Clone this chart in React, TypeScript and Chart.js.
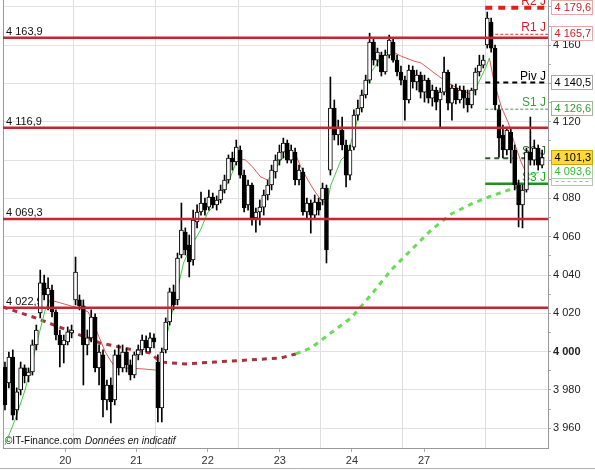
import React, { useEffect, useRef } from 'react';
import { Chart, registerables } from 'chart.js';
Chart.register(...registerables);

const FONT = '"Liberation Sans", Arial, sans-serif';

// ---- Candles (OHLC) ----
const opens = [
  3992.0, 3983.7, 3997.2, 3969.6, 3980.0, 3991.5, 3987.3, 3989.4, 4003.5, 4020.2,
  4035.9, 4029.6, 4032.2, 4020.7, 4008.7, 4003.5, 4005.1, 4009.8, 4027.0, 4027.0,
  4023.9, 4003.5, 4007.2, 4018.1, 3991.5, 3998.3, 3974.8, 3982.6, 3974.8, 3998.3,
  3991.5, 3999.8, 3993.1, 3987.8, 3998.3, 4000.9, 4006.1, 4001.9, 4007.2, 3994.6,
  3970.6, 4000.9, 4015.5, 4031.2, 4027.0, 4050.5, 4062.4, 4055.7, 4047.9, 4067.7,
  4072.9, 4077.6, 4075.5, 4080.7, 4076.6, 4079.2, 4084.4, 4089.6, 4101.1, 4099.0,
  4105.3, 4092.2, 4076.6, 4087.0, 4069.8, 4072.9, 4075.5, 4081.8, 4087.0, 4093.8,
  4100.0, 4104.2, 4108.9, 4100.0, 4104.2, 4089.6, 4093.8, 4072.9, 4077.6, 4071.3,
  4078.1, 4079.2, 4085.4, 4094.8, 4127.2, 4113.1, 4115.7, 4107.9, 4092.2, 4106.8,
  4123.5, 4127.2, 4134.0, 4141.8, 4161.6, 4152.2, 4154.8, 4146.0, 4154.8, 4161.6,
  4152.2, 4146.0, 4141.8, 4131.4, 4147.0, 4140.8, 4144.4, 4135.5, 4141.8, 4132.4,
  4136.6, 4131.4, 4135.5, 4146.0, 4129.8, 4137.6, 4131.4, 4136.6, 4132.4, 4128.8,
  4136.6, 4146.0, 4149.6, 4160.1, 4172.1, 4158.5, 4126.2, 4113.1, 4105.3, 4114.7,
  4105.3, 4087.0, 4076.6, 4084.4, 4104.2, 4100.0, 4106.3, 4097.4,
];
const highs = [
  3994.6, 3999.8, 4000.9, 3981.1, 3994.6, 3993.1, 3991.5, 4006.1, 4013.9, 4042.6,
  4040.0, 4038.5, 4034.8, 4021.8, 4011.3, 4008.7, 4012.9, 4013.9, 4049.4, 4029.6,
  4027.0, 4011.3, 4021.8, 4019.7, 4003.5, 4000.9, 3985.2, 3986.3, 4000.9, 4003.5,
  4003.5, 4001.9, 3995.7, 3999.8, 4003.5, 4008.7, 4008.2, 4009.8, 4009.3, 3998.3,
  4001.9, 4017.6, 4033.2, 4034.8, 4051.5, 4077.6, 4064.6, 4060.9, 4073.9, 4076.6,
  4083.3, 4080.2, 4084.4, 4082.8, 4081.3, 4087.0, 4092.2, 4102.7, 4104.2, 4110.5,
  4107.4, 4094.8, 4089.6, 4088.0, 4075.0, 4079.2, 4084.4, 4089.6, 4097.4, 4102.7,
  4107.9, 4111.5, 4110.5, 4107.9, 4106.3, 4097.4, 4095.9, 4080.2, 4079.2, 4081.8,
  4080.2, 4088.0, 4087.0, 4143.4, 4131.4, 4120.9, 4122.5, 4110.5, 4107.9, 4126.2,
  4131.4, 4136.6, 4144.4, 4166.3, 4163.7, 4158.5, 4156.4, 4157.5, 4165.3, 4163.7,
  4154.8, 4149.1, 4143.9, 4149.6, 4149.1, 4147.0, 4146.0, 4144.4, 4142.8, 4139.2,
  4138.1, 4137.6, 4153.8, 4147.0, 4139.2, 4139.7, 4138.7, 4138.7, 4136.6, 4137.6,
  4148.1, 4154.8, 4154.8, 4177.3, 4174.2, 4160.1, 4128.8, 4118.3, 4117.3, 4116.8,
  4107.9, 4089.6, 4087.0, 4106.3, 4122.5, 4110.5, 4107.9, 4105.3,
];
const lows = [
  3969.6, 3981.1, 3964.4, 3964.4, 3977.4, 3983.7, 3984.2, 3987.8, 4000.9, 4017.6,
  4027.0, 4021.8, 4018.1, 4006.1, 3992.0, 3994.1, 4003.5, 4007.2, 4024.4, 4021.8,
  3982.6, 3998.3, 4005.1, 3989.4, 3982.6, 3965.9, 3969.6, 3962.8, 3972.2, 3987.8,
  3989.4, 3989.4, 3985.2, 3986.3, 3995.7, 3998.3, 3999.8, 3999.8, 4001.9, 3963.3,
  3963.3, 3999.3, 4013.9, 4021.8, 4024.4, 4048.9, 4050.5, 4039.0, 4045.2, 4064.6,
  4071.3, 4071.3, 4073.9, 4075.0, 4073.9, 4077.6, 4082.8, 4088.0, 4094.8, 4097.4,
  4090.6, 4072.9, 4073.9, 4066.1, 4062.4, 4066.1, 4071.3, 4079.2, 4084.4, 4090.6,
  4097.4, 4101.1, 4098.5, 4098.5, 4087.0, 4087.0, 4071.3, 4069.8, 4061.9, 4069.8,
  4071.3, 4076.6, 4046.3, 4092.2, 4110.5, 4107.9, 4105.3, 4086.0, 4089.6, 4105.3,
  4120.9, 4125.1, 4132.4, 4140.2, 4149.6, 4149.1, 4143.9, 4144.9, 4153.3, 4151.2,
  4143.9, 4139.2, 4120.9, 4129.8, 4137.6, 4136.6, 4132.4, 4130.3, 4129.8, 4128.2,
  4126.2, 4116.8, 4134.0, 4126.2, 4120.9, 4129.3, 4129.8, 4127.2, 4125.1, 4127.2,
  4134.0, 4143.9, 4148.1, 4158.5, 4156.4, 4126.2, 4101.6, 4101.1, 4102.7, 4098.5,
  4084.4, 4065.1, 4064.6, 4083.3, 4097.4, 4097.4, 4094.8, 4095.9,
];
const closes = [
  3972.2, 3997.2, 3966.9, 3979.0, 3991.5, 3987.3, 3989.4, 4003.5, 4011.3, 4035.9,
  4029.6, 4033.2, 4020.7, 4008.7, 4003.5, 4006.1, 4010.3, 4011.3, 4041.6, 4023.9,
  4003.5, 4007.2, 4018.1, 3991.5, 3999.8, 3974.8, 3982.6, 3973.7, 3998.3, 3991.5,
  3999.8, 3993.1, 3987.8, 3998.3, 4000.9, 4006.1, 4001.9, 4007.2, 4005.1, 3970.6,
  3999.8, 4015.5, 4031.2, 4024.4, 4048.9, 4063.5, 4053.1, 4046.8, 4068.7, 4072.9,
  4077.6, 4073.9, 4080.7, 4076.6, 4079.2, 4084.4, 4089.6, 4101.1, 4099.0, 4106.8,
  4092.2, 4075.0, 4087.0, 4069.8, 4072.9, 4075.5, 4081.8, 4087.0, 4094.8, 4100.0,
  4104.2, 4108.9, 4100.0, 4105.3, 4089.6, 4094.8, 4072.9, 4077.6, 4071.3, 4078.1,
  4073.9, 4085.4, 4053.1, 4127.2, 4113.1, 4116.8, 4107.9, 4092.2, 4105.3, 4123.5,
  4127.2, 4134.0, 4141.8, 4161.6, 4152.2, 4156.4, 4146.0, 4154.8, 4162.7, 4152.2,
  4146.0, 4141.8, 4131.4, 4147.0, 4140.8, 4144.4, 4135.5, 4141.8, 4132.4, 4136.6,
  4130.3, 4135.5, 4146.0, 4129.8, 4137.6, 4131.4, 4136.6, 4132.4, 4128.8, 4136.6,
  4146.0, 4149.6, 4152.2, 4174.2, 4158.5, 4128.8, 4111.5, 4105.3, 4115.7, 4105.3,
  4087.0, 4076.6, 4084.4, 4104.2, 4100.0, 4106.3, 4097.4, 4101.3,
];

// ---- Moving averages ----
const maShortX = [
  0, 2.57, 5.13, 7.68, 10.24, 11.52, 14.08, 16.64, 19.19, 21.24, 23.03, 25.59, 27.63,
  30.7, 33.26, 35.82, 38.37, 39.4, 40.42, 42.98, 45.54, 47.33, 49.88, 51.67, 55.0,
  57.56, 59.35, 61.39, 63.18, 65.23, 67.02, 68.55, 70.34, 72.9, 74.18, 75.46, 77.25,
  78.79, 80.58, 82.11, 83.13, 85.69, 87.48, 89.53, 91.32, 93.36, 95.92, 97.97, 101.04,
  104.36, 106.15, 109.48, 113.06, 116.38, 119.2, 120.73, 122.78, 123.54, 124.82,
  126.61, 128.4, 129.94, 131.73, 133.26, 134.8, 136.1,
];
const maShortY = [
  3951.3, 3964.4, 3980.0, 4000.9, 4021.8, 4027.0, 4025.5, 4024.0, 4022.6, 4020.7,
  4012.4, 3999.8, 3993.1, 3991.5, 3991.2, 3990.9, 3990.4, 3989.6, 4000.9, 4023.3,
  4046.3, 4054.6, 4063.5, 4072.4, 4080.7, 4091.2, 4101.1, 4100.0, 4096.4, 4091.2,
  4089.6, 4093.8, 4100.0, 4104.7, 4102.7, 4096.4, 4089.6, 4084.4, 4079.2, 4077.1,
  4087.0, 4100.0, 4103.7, 4118.3, 4132.9, 4145.9, 4153.3, 4157.5, 4154.3, 4151.7,
  4150.7, 4145.5, 4140.2, 4136.6, 4134.0, 4140.2, 4149.1, 4153.3, 4140.2, 4127.7,
  4119.4, 4108.9, 4098.5, 4092.0, 4092.8, 4093.6,
];
const maLongX = [
  -0.5, 7.17, 15.87, 24.31, 32.75, 37.1, 39.65, 46.05, 53.72, 62.67, 70.34, 74.18,
  78.02, 83.13, 88.25, 93.36, 98.48, 103.59, 108.71, 113.82, 118.94, 124.05, 129.17, 132.24,
];
const maLongY = [
  4023.3, 4018.1, 4011.3, 4004.5, 4000.9, 3999.3, 3994.6, 3993.6, 3994.6, 3995.7,
  3996.7, 3998.8, 4001.9, 4009.8, 4017.6, 4029.6, 4042.6, 4053.1, 4063.5, 4071.9,
  4077.1, 4081.3, 4084.9, 4087.0,
];
const maLongTurn = 71.5;

// ---- Levels ----
const levelValues = [4163.9, 4116.9, 4069.3, 4022.9];
const pivotNames = ['R2 J', 'R1 J', 'Piv J', 'S1 J', 'S2 J', 'S3 J'];
const pivotValues = [4179.6, 4165.7, 4140.5, 4126.6, 4101.0, 4087.7];
const pivotStart = 122.5;

// ---- Axes ----
const dayBoundaries = [17.5, 38.5, 59.5, 80.5, 101.5, 122.5];
const dayLabels = ['20', '21', '22', '23', '24', '27'];
const dayLabelPositions = [15.4, 33.5, 51.7, 70.1, 88.5, 106.9];
const yTickValues = [
  3960, 3970, 3980, 3990, 4000, 4010, 4020, 4030, 4040, 4050, 4060, 4070,
  4080, 4090, 4100, 4110, 4120, 4130, 4140, 4150, 4160, 4170, 4180,
];
const yLabelValues = [3960, 3980, 4000, 4020, 4040, 4060, 4080, 4120, 4160];
const yGridValues = [3960, 3980, 4000, 4020, 4040, 4060, 4080, 4100, 4120, 4140, 4160, 4180];
const yMin = 3949.7;
const yMax = 4183.6;
const xMin = -0.5;
const xMax = 138.5;

const fmt = (v: number) => {
  const s = v.toFixed(1);
  const [ip, fp] = s.split('.');
  return ip.replace(/\B(?=(\d{3})+(?!\d))/g, ' ') + ',' + fp;
};
const fmtInt = (v: number) => String(Math.round(v)).replace(/\B(?=(\d{3})+(?!\d))/g, ' ');

const pivotStyles = [
  { color: '#dd2020', width: 4, dash: [7, 6], text: '#cc2222' },
  { color: '#dd3333', width: 1, dash: [3, 2], text: '#cc2222' },
  { color: '#000000', width: 2, dash: [5, 4], text: '#000000' },
  { color: '#5a8a5a', width: 1, dash: [3, 2], text: '#3a9a3a' },
  { color: '#2d5a2d', width: 2, dash: [5, 4], text: '#2d6a2d' },
  { color: '#1f8f1f', width: 2.5, dash: [], text: '#22aa22' },
];

const zeroPad = (s: any) => {
  s.paddingTop = 0;
  s.paddingBottom = 0;
  s.paddingLeft = 0;
  s.paddingRight = 0;
};

const decorPlugin = {
  id: 'decor',
  beforeDatasetsDraw(chart: any) {
    const { ctx, chartArea: a, scales } = chart;
    const y = scales.y;
    ctx.save();
    ctx.strokeStyle = '#999';
    ctx.lineWidth = 1;
    ctx.beginPath();
    ctx.moveTo(a.left + 0.5, a.top);
    ctx.lineTo(a.left + 0.5, a.bottom);
    ctx.stroke();

    ctx.font = `11px ${FONT}`;
    ctx.fillStyle = '#111';
    ctx.textAlign = 'left';
    ctx.textBaseline = 'alphabetic';
    levelValues.forEach((v) => ctx.fillText(fmt(v), a.left + 3, y.getPixelForValue(v) - 2.5));

    ctx.font = `12px ${FONT}`;
    ctx.textAlign = 'right';
    pivotNames.forEach((n, i) => {
      ctx.fillStyle = pivotStyles[i].text;
      ctx.fillText(n, a.right - 2, y.getPixelForValue(pivotValues[i]) - 3);
    });

    ctx.textAlign = 'left';
    ctx.fillStyle = '#111';
    ctx.font = `10px ${FONT}`;
    ctx.fillText('\u00A9IT-Finance.com', a.left + 2, a.bottom - 4);
    ctx.font = `italic 10px ${FONT}`;
    ctx.fillText('Donn\u00E9es en indicatif', a.left + 82, a.bottom - 4);
    ctx.restore();
  },
  afterDraw(chart: any) {
    const { ctx, chartArea: a, scales } = chart;
    const y = scales.y;
    const bx = a.right + 3.5;
    ctx.save();
    // long-MA / S3 marker box, mostly tucked under the short-MA box
    const ps3 = Math.round(y.getPixelForValue(pivotValues[5]));
    ctx.fillStyle = '#ffffff';
    ctx.fillRect(bx, ps3 - 8.5, 41, 10);
    ctx.strokeStyle = '#b8c8b8';
    ctx.lineWidth = 1;
    ctx.strokeRect(bx, ps3 - 8.5, 41, 10);
    ctx.strokeStyle = '#88cc88';
    ctx.setLineDash([3, 3]);
    ctx.beginPath();
    ctx.moveTo(bx + 4, ps3 - 2.5);
    ctx.lineTo(bx + 38, ps3 - 2.5);
    ctx.stroke();
    ctx.setLineDash([]);

    const boxes = [
      { v: pivotValues[4], color: '#2d6a2d', border: '#99bb99', fill: '#ffffff' },
      { v: maShortY[maShortY.length - 1], color: '#33bb33', border: '#aaccaa', fill: '#ffffff' },
      { v: closes[closes.length - 1], color: '#000000', border: '#c9a400', fill: '#ffd83a' },
      { v: pivotValues[3], color: '#339933', border: '#99bb99', fill: '#ffffff' },
      { v: pivotValues[2], color: '#000000', border: '#aaaaaa', fill: '#ffffff' },
      { v: pivotValues[1], color: '#cc2222', border: '#e8a8a8', fill: '#ffffff' },
      { v: pivotValues[0], color: '#cc2222', border: '#e8a8a8', fill: '#ffffff' },
    ];
    ctx.font = `11px ${FONT}`;
    ctx.textAlign = 'left';
    ctx.textBaseline = 'middle';
    boxes.forEach((b) => {
      const py = Math.round(y.getPixelForValue(b.v));
      ctx.fillStyle = b.fill;
      ctx.fillRect(bx, py - 7.5, 41, 14);
      ctx.strokeStyle = b.border;
      ctx.lineWidth = 1;
      ctx.strokeRect(bx, py - 7.5, 41, 14);
      ctx.fillStyle = b.color;
      ctx.fillText(fmt(b.v), bx + 3, py);
    });
    ctx.strokeStyle = '#b0b0b0';
    ctx.beginPath();
    ctx.moveTo(0, 468.5);
    ctx.lineTo(595, 468.5);
    ctx.stroke();
    ctx.restore();
  },
};

export default function App() {
  const ref = useRef<HTMLCanvasElement>(null);
  useEffect(() => {
    const canvas = ref.current;
    if (!canvas) return;
    Chart.defaults.font.family = FONT;

    const bodies = closes.map((c, i) => ({ x: i, y: [Math.min(opens[i], c), Math.max(opens[i], c)] }));
    const wicks = closes.map((_, i) => ({ x: i, y: [lows[i], highs[i]] }));

    const levelSets = levelValues.map((v) => ({
      type: 'line' as const,
      data: [{ x: xMin, y: v }, { x: xMax, y: v }],
      borderColor: '#c42632',
      borderWidth: 2.5,
      pointRadius: 0,
      fill: false,
      order: 10,
      xAxisID: 'x',
      yAxisID: 'y',
    }));
    const pivotSets = pivotValues.map((v, i) => ({
      type: 'line' as const,
      data: [{ x: pivotStart, y: v }, { x: xMax, y: v }],
      borderColor: pivotStyles[i].color,
      borderWidth: pivotStyles[i].width,
      borderDash: pivotStyles[i].dash,
      pointRadius: 0,
      fill: false,
      order: 35,
      xAxisID: 'x',
      yAxisID: 'y',
    }));

    const chart = new Chart(canvas, {
      type: 'bar',
      data: {
        datasets: [
          {
            type: 'line',
            data: maLongX.map((x, i) => ({ x, y: maLongY[i] })),
            borderWidth: 3,
            borderDash: [5, 5],
            borderColor: '#66dd55',
            segment: {
              borderColor: (c: any) => (c.p0.parsed.x < maLongTurn ? '#a8323e' : '#66dd55'),
            },
            pointRadius: 0,
            fill: false,
            order: 60,
            xAxisID: 'x',
            yAxisID: 'y',
          } as any,
          {
            type: 'line',
            data: maShortX.map((x, i) => ({ x, y: maShortY[i] })),
            borderWidth: 1,
            borderColor: '#44cc44',
            segment: {
              borderColor: (c: any) => (c.p1.parsed.y >= c.p0.parsed.y ? '#44cc44' : '#dd5a5a'),
            },
            pointRadius: 0,
            fill: false,
            order: 50,
            xAxisID: 'x',
            yAxisID: 'y',
          } as any,
          ...pivotSets,
          {
            type: 'bar',
            data: wicks,
            backgroundColor: '#000',
            borderWidth: 0,
            barThickness: 1,
            grouped: false,
            order: 30,
            xAxisID: 'x',
            yAxisID: 'y',
          } as any,
          {
            type: 'bar',
            data: bodies,
            backgroundColor: (c: any) =>
              closes[c.dataIndex] >= opens[c.dataIndex] ? '#ffffff' : '#000000',
            borderColor: '#000',
            borderWidth: 1,
            borderSkipped: false,
            barThickness: 4,
            grouped: false,
            order: 20,
            xAxisID: 'x',
            yAxisID: 'y',
          } as any,
          ...levelSets,
        ],
      },
      options: {
        animation: false,
        responsive: false,
        maintainAspectRatio: false,
        layout: { padding: { left: 3, top: 0, right: 0, bottom: 0 } },
        plugins: { legend: { display: false }, tooltip: { enabled: false } },
        scales: {
          x: {
            type: 'linear',
            axis: 'x',
            position: 'bottom',
            min: xMin,
            max: xMax,
            offset: false,
            afterBuildTicks: (s: any) => {
              s.ticks = dayLabelPositions.map((v) => ({ value: v }));
            },
            ticks: {
              callback: (_v: any, i: number) => dayLabels[i],
              font: { family: FONT, size: 11 },
              color: '#333',
              padding: 2,
              maxRotation: 0,
              autoSkip: false,
            },
            grid: { drawOnChartArea: false, drawTicks: true, tickLength: 4, tickColor: '#aaa', offset: false },
            border: { display: true, color: '#999' },
            afterFit: (s: any) => {
              s.height = 22;
              zeroPad(s);
            },
          },
          xg: {
            type: 'linear',
            axis: 'x',
            position: 'top',
            min: xMin,
            max: xMax,
            offset: false,
            afterBuildTicks: (s: any) => {
              s.ticks = dayBoundaries.map((v) => ({ value: v }));
            },
            ticks: { display: false },
            grid: { color: '#dedede', drawTicks: false, offset: false },
            border: { display: false },
            afterFit: (s: any) => {
              s.height = 0;
              zeroPad(s);
            },
          },
          y: {
            type: 'linear',
            position: 'right',
            min: yMin,
            max: yMax,
            afterBuildTicks: (s: any) => {
              s.ticks = yTickValues.map((v) => ({ value: v }));
            },
            ticks: {
              callback: (v: any) => (yLabelValues.includes(Number(v)) ? fmtInt(Number(v)) : ''),
              font: (c: any) => ({
                family: FONT,
                size: 11,
                weight: c.tick && c.tick.value === 4000 ? 'bold' : 'normal',
              }),
              color: '#222',
              padding: 2,
              autoSkip: false,
            },
            grid: {
              color: (c: any) =>
                c.tick && yGridValues.includes(c.tick.value) ? '#e2e2e2' : 'rgba(0,0,0,0)',
              tickColor: '#aaa',
              tickLength: 3,
            },
            border: { display: true, color: '#999' },
            afterFit: (s: any) => {
              s.width = 47;
              zeroPad(s);
            },
          },
        },
      } as any,
      plugins: [decorPlugin],
    });
    return () => chart.destroy();
  }, []);

  return (
    <div style={{ position: 'absolute', left: 0, top: 0, width: 595, height: 470, background: '#fff' }}>
      <canvas ref={ref} width={595} height={470} style={{ display: 'block', width: 595, height: 470 }} />
    </div>
  );
}
